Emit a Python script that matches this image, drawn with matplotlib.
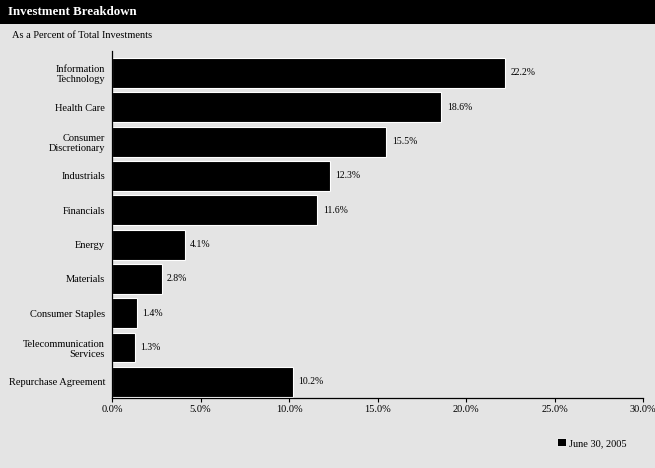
import matplotlib
matplotlib.use('Agg')
import matplotlib.pyplot as plt
from matplotlib.patches import Rectangle

# data
categories = ["Information\nTechnology", "Health Care", "Consumer\nDiscretionary",
              "Industrials", "Financials", "Energy", "Materials",
              "Consumer Staples", "Telecommunication\nServices", "Repurchase Agreement"]
values = [22.2, 18.6, 15.5, 12.3, 11.6, 4.1, 2.8, 1.4, 1.3, 10.2]
x_ticks = [0, 5, 10, 15, 20, 25, 30]
series_name = "June 30, 2005"

BG = '#e4e4e4'
plt.rcParams['font.family'] = ['Liberation Serif', 'DejaVu Serif']

W, H = 655, 468
fig = plt.figure(figsize=(W / 100, H / 100), dpi=100, facecolor=BG)

# black title bar across the top
fig.patches.append(Rectangle((0, 1 - 24 / H), 1, 24 / H, transform=fig.transFigure,
                             facecolor='black', edgecolor='none', zorder=0))
fig.text(8 / W, 1 - 12 / H, "Investment Breakdown", color='white', fontsize=9.3,
         fontweight='bold', va='center', ha='left')
fig.text(12 / W, 1 - 36 / H, "As a Percent of Total Investments", color='black',
         fontsize=7.5, va='center', ha='left')

# axes: left x=112, right x=643, top y=51, bottom y=398
ax = fig.add_axes([112 / W, 1 - 398 / H, (643 - 112) / W, (398 - 51) / H])
ax.set_facecolor(BG)

pos = list(range(len(categories)))
ax.barh(pos, values, height=0.87, color='black', edgecolor='white', linewidth=0.8)

for p, v in zip(pos, values):
    ax.annotate(f"{v:.1f}%", xy=(v, p), xytext=(4, 0), textcoords='offset points',
                va='center', ha='left', fontsize=7)

ax.set_xlim(0, 30)
ax.set_ylim(9.47, -0.64)
ax.set_yticks(pos)
ax.set_yticklabels(categories, fontsize=7.5, linespacing=1.2)
ax.tick_params(axis='y', length=0, pad=5)
ax.set_xticks(x_ticks)
ax.set_xticklabels([f"{t:.1f}%" for t in x_ticks], fontsize=7.5)
ax.tick_params(axis='x', length=3, width=0.8, pad=2, direction='out')

for s in ['top', 'right']:
    ax.spines[s].set_visible(False)
for s in ['left', 'bottom']:
    ax.spines[s].set_linewidth(0.9)
    ax.spines[s].set_color('black')

# legend bottom right
handle = Rectangle((0, 0), 1, 1, facecolor='black', edgecolor='white', linewidth=0.6)
leg = fig.legend([handle], [series_name], loc='center left',
                 bbox_to_anchor=(548 / W, 1 - 443 / H), frameon=False, fontsize=7.5,
                 handlelength=0.8, handleheight=0.8, handletextpad=0.3)

fig.savefig('out.png', dpi=100, facecolor=BG)
